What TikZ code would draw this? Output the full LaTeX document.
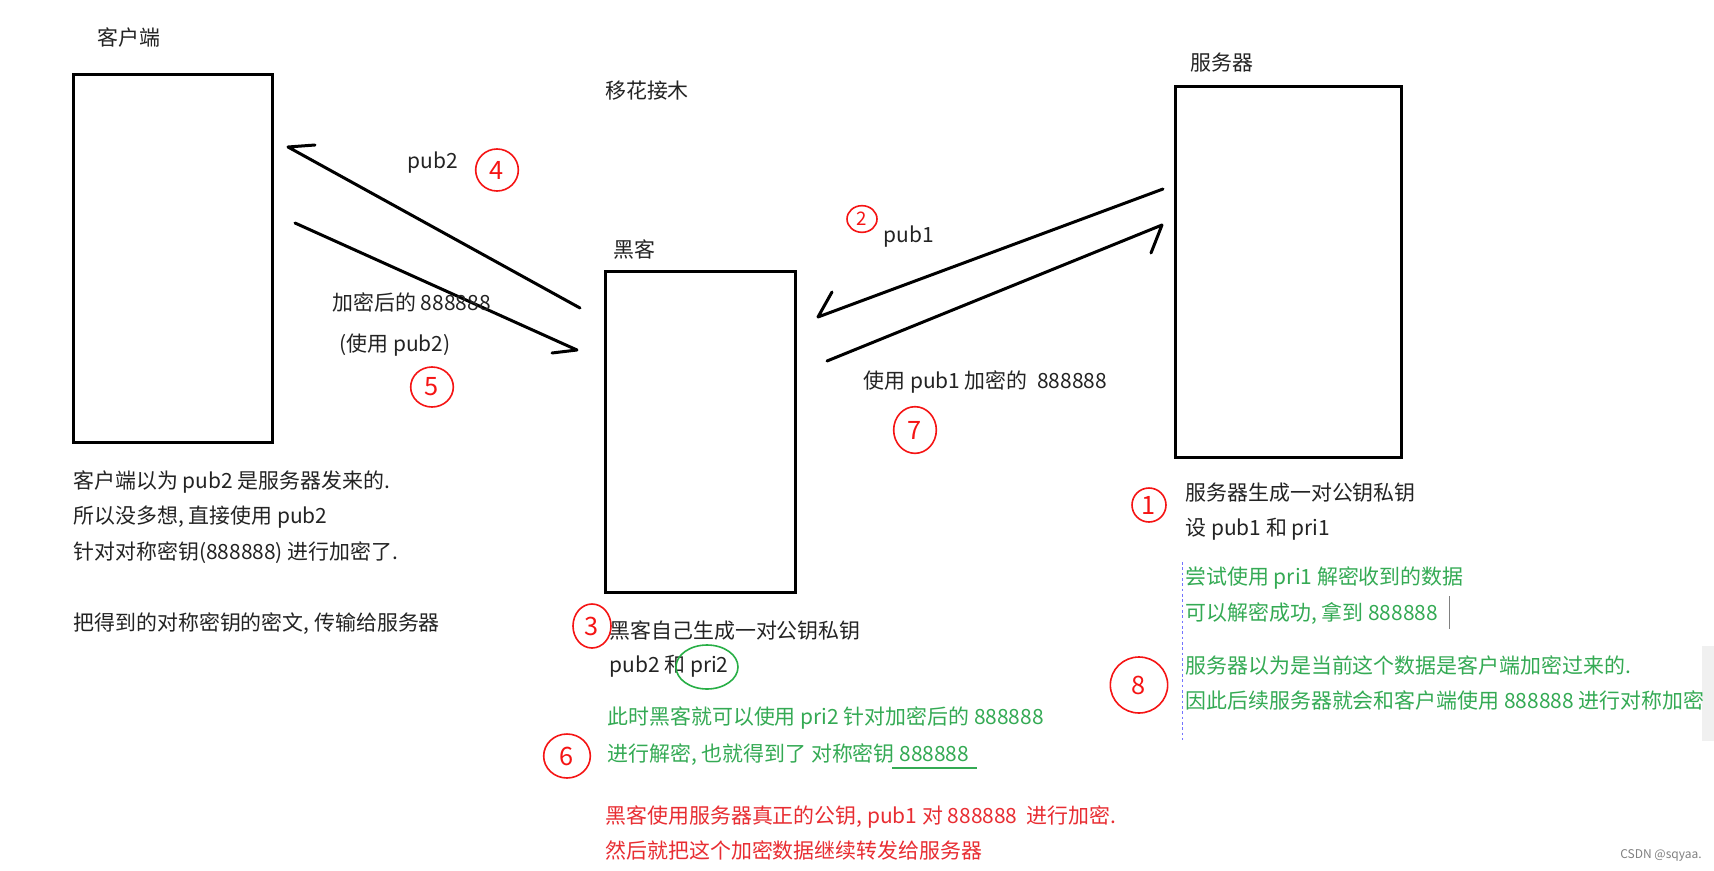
\documentclass[tikz,border=0pt]{standalone}
\usepackage{fontspec}
\setmainfont{Noto Sans CJK SC}
\usetikzlibrary{shapes.geometric}

\definecolor{handred}{RGB}{245,20,20}
\definecolor{handgreen}{RGB}{40,175,70}
\definecolor{txtgreen}{RGB}{52,170,84}
\definecolor{txtred}{RGB}{232,45,50}
\definecolor{txtdark}{RGB}{35,35,35}

\tikzset{every picture/.style={line width=0.75pt}}
\tikzset{
  box/.style={draw, line width=2.25pt, inner sep=0pt, fill=white},
  arrowline/.style={line width=2.25pt, line cap=round, line join=round},
  txt/.style={anchor=west, inner sep=0pt, font=\fontsize{15.7}{18}\selectfont, text=txtdark},
  hand/.style={ellipse, draw=handred, line width=1.2pt, text=handred, inner sep=0pt, font=\fontsize{19}{19}\selectfont},
}

\begin{document}
\begin{tikzpicture}[x=0.75pt,y=0.75pt,yscale=-1,xscale=1]
    \useasboundingbox (0,0) rectangle (1714,871);
    \fill[white] (0,0) rectangle (1714,871);
    \fill[gray!12] (1702,646) rectangle (1714,741);

    %Shape: Rectangle [client]
    \node[box, minimum width=149.25pt, minimum height=276pt] (client) at (172.5,258) {};
    %Shape: Rectangle [hacker]
    \node[box, minimum width=142.5pt, minimum height=240.75pt] (hacker) at (700,431.5) {};
    %Shape: Rectangle [server]
    \node[box, minimum width=169.5pt, minimum height=278.25pt] (server) at (1288,271.5) {};

    % Text Node
    \node[txt, anchor=center] (clientlbl) at (129,38) {客户端};
    % Text Node
    \node[txt, anchor=center] (trick) at (647,91) {移花接木};
    % Text Node
    \node[txt, anchor=center] (hackerlbl) at (634,249) {黑客};
    % Text Node
    \node[txt, anchor=center] (serverlbl) at (1222,63) {服务器};

    %Straight Lines [hacker -> client]
    \coordinate (hkout) at (580,308);
    \coordinate (clin) at (288,147);
    \draw[arrowline] (hkout) -- (clin) -- ++(27,-2);
    %Straight Lines [client -> hacker]
    \coordinate (clout) at (295,223);
    \coordinate (hkin) at (577,350);
    \draw[arrowline] (clout) -- (hkin) -- ++(-25,3);
    %Straight Lines [server -> hacker]
    \coordinate (svout) at (1163,189);
    \coordinate (hkinb) at (818,317);
    \draw[arrowline] (svout) -- (hkinb) -- ++(14,-25);
    %Straight Lines [hacker -> server]
    \coordinate (hkoutb) at (827,361);
    \coordinate (svin) at (1162,225);
    \draw[arrowline] (hkoutb) -- (svin) -- ++(-11,28);

    % Text Node
    \node[txt, anchor=center] (pubtwo) at (433,163) {pub2};
    % Text Node
    \node[txt] (encone) at (332,302) {加密后的 888888};
    % Text Node
    \node[txt] (enctwo) at (339,345) {(使用 pub2)};
    % Text Node
    \node[txt] (pubone) at (883,237) {pub1};
    % Text Node
    \node[txt] (encpub) at (863,382) {使用 pub1 加密的\ \ 888888};

    % Text Node
    \node[txt] (cla) at (73,482) {客户端以为 pub2 是服务器发来的.};
    \node[txt] (clb) at (73,517) {所以没多想, 直接使用 pub2};
    \node[txt] (clc) at (73,553) {针对对称密钥(888888) 进行加密了.};
    \node[txt] (cld) at (73,624) {把得到的对称密钥的密文, 传输给服务器};

    % Text Node
    \node[txt] (hka) at (609,631) {黑客自己生成一对公钥私钥};
    \node[txt] (hkb) at (609,666) {pub2 和 pri2};
    \node[txt, text=txtgreen] (hkc) at (607,718) {此时黑客就可以使用 pri2 针对加密后的 888888};
    \node[txt, text=txtgreen] (hkd) at (607,755) {进行解密, 也就得到了 对称密钥 888888};
    \draw[txtgreen, line width=1pt] (892,768) -- (977,768);
    \node[txt, text=txtred] (hke) at (605,817) {黑客使用服务器真正的公钥, pub1 对 888888\ \ 进行加密.};
    \node[txt, text=txtred] (hkf) at (605,850) {然后就把这个加密数据继续转发给服务器};
    \draw[handgreen, line width=1.2pt] (707,667) ellipse [x radius=31, y radius=22];

    % Text Node
    \node[txt] (sva) at (1185,493) {服务器生成一对公钥私钥};
    \node[txt] (svb) at (1185,529) {设 pub1 和 pri1};
    \draw[blue!55, line width=0.75pt, dash pattern=on 2pt off 2pt] (1182,562) -- (1182,740);
    \node[txt, text=txtgreen] (svc) at (1185,578) {尝试使用 pri1 解密收到的数据};
    \node[txt, text=txtgreen] (svd) at (1185,613) {可以解密成功, 拿到 888888};
    \draw[gray, line width=0.75pt] (1449,596) -- (1449,629);
    \node[txt, text=txtgreen] (sve) at (1185,665) {服务器以为是当前这个数据是客户端加密过来的.};
    \begin{scope}
      \clip (1150,680) rectangle (1702,722);
      \node[txt, text=txtgreen] (svf) at (1185,700) {因此后续服务器就会和客户端使用 888888 进行对称加密};
    \end{scope}

    % hand-written step marks
    \node[hand, minimum width=25.5pt, minimum height=25.5pt] (stepone) at (1149,505) {1};
    \node[hand, minimum width=22.5pt, minimum height=20pt, font=\fontsize{14}{14}\selectfont] (steptwo) at (862,219) {2};
    \node[hand, minimum width=28.5pt, minimum height=33pt] (stepthree) at (592,626) {3};
    \node[hand, minimum width=32pt, minimum height=31.5pt] (stepfour) at (497,170) {4};
    \node[hand, minimum width=32pt, minimum height=30pt] (stepfive) at (432,387) {5};
    \node[hand, minimum width=35pt, minimum height=33pt] (stepsix) at (567,756) {6};
    \node[hand, minimum width=32pt, minimum height=35pt] (stepseven) at (915,430) {7};
    \node[hand, minimum width=43pt, minimum height=42pt] (stepeight) at (1139,685) {8};

    % Text Node
    \node[inner sep=0pt, font=\fontsize{9}{9}\selectfont, text=gray] (mark) at (1661,855) {CSDN @sqyaa.};
\end{tikzpicture}
\end{document}
